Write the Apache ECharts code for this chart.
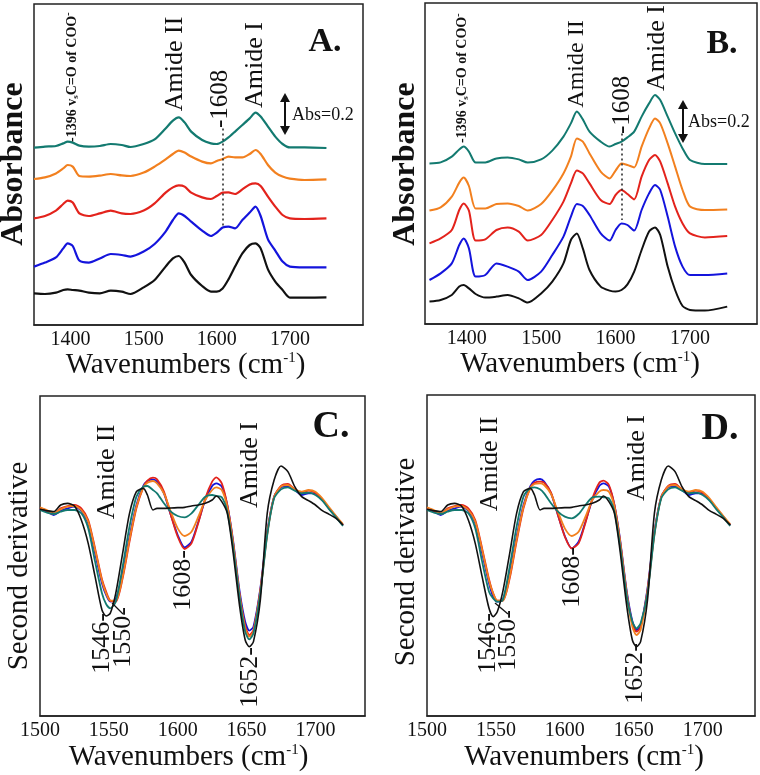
<!DOCTYPE html>
<html><head><meta charset="utf-8">
<script src="https://cdn.jsdelivr.net/npm/echarts@6/dist/echarts.min.js"></script>
<style>html,body{margin:0;padding:0;background:#fff}#c{width:760px;height:775px}</style>
</head><body><div id="c"></div>
<script>
// ---------- DATA ----------
// Panel A & B: absorbance spectra (offset, arbitrary units)
const xAB = [1350,1365,1380,1390,1396,1403,1412,1425,1440,1455,1470,1482,1500,1515,1530,1540,1548,1556,1565,1580,1592,1600,1608,1616,1625,1635,1645,1653,1660,1670,1680,1690,1700,1720,1750];
const aTeal   = [88.7,89.2,89.5,90.8,91.7,91.2,89.7,89.2,89.5,90.5,90.0,89.0,90.5,92.8,98.3,102.2,103.8,101.3,96.7,92.5,90.8,90.5,91.7,93.8,96.7,100.0,103.3,106.2,104.2,99.2,94.2,90.5,88.8,88.8,88.5];
const aOrange = [73.0,73.8,75.8,78.3,80.0,79.2,74.5,74.2,74.7,75.5,74.8,74.5,76.2,79.2,82.8,85.5,87.2,86.2,84.2,81.7,80.8,82.0,83.0,84.2,83.8,83.8,85.5,87.5,85.5,80.0,76.2,74.2,73.2,72.5,72.8];
const aRed    = [53.3,54.5,57.2,60.5,62.2,61.2,55.8,54.5,55.8,57.2,55.8,55.5,57.2,60.8,66.2,68.8,69.8,69.2,66.2,63.8,63.0,64.5,66.2,66.3,65.5,67.8,70.3,70.8,69.5,64.2,59.2,55.0,53.3,53.0,53.3];
const aBlue   = [29.2,31.2,33.8,38.3,40.8,39.5,32.2,31.2,33.3,35.5,35.0,34.2,36.7,40.5,46.7,52.5,55.8,54.5,51.7,47.2,44.5,46.2,48.7,49.2,48.3,52.5,56.2,59.2,54.5,42.8,37.2,31.7,29.2,28.8,28.8];
const aBlack  = [15.8,15.5,16.2,17.5,17.8,17.5,17.2,16.2,15.8,17.2,16.7,15.5,18.8,22.5,29.2,33.3,34.5,31.2,25.0,19.5,16.7,16.7,18.3,22.8,29.2,35.8,40.0,40.8,38.3,27.8,21.7,17.5,13.7,13.7,13.8];

const bTeal   = [80.3,80.8,83.7,87.3,88.7,86.2,80.7,80.8,82.8,83.3,82.3,80.7,82.3,86.7,93.7,100.3,106.2,102.3,96.2,91.2,88.7,90.0,91.2,93.3,96.2,103.7,110.3,114.5,112.0,103.7,95.3,87.8,82.0,80.0,80.0];
const bOrange = [56.7,58.3,63.7,70.7,73.2,69.0,57.8,57.8,60.0,60.3,59.0,56.7,60.0,66.7,75.3,83.7,92.8,91.2,85.3,76.2,72.8,76.7,80.3,79.5,78.3,88.7,97.8,102.8,100.3,90.3,78.7,67.0,58.7,57.0,57.3];
const bRed    = [40.3,42.8,47.0,57.0,60.3,56.7,41.7,42.3,47.0,48.3,46.2,41.7,44.5,52.0,61.2,70.3,76.7,75.3,70.3,62.0,60.0,64.5,67.0,65.0,62.3,73.7,82.0,84.5,81.2,70.3,58.7,50.3,45.3,43.3,44.0];
const bBlue   = [22.0,25.3,30.3,39.5,42.8,37.8,23.7,24.5,30.3,28.7,26.2,22.0,26.2,34.5,43.7,53.7,60.0,59.0,54.5,45.3,41.7,47.0,50.3,49.5,46.7,57.0,65.3,69.5,67.0,53.7,38.7,28.7,24.5,24.5,25.3];
const bBlack  = [11.2,12.0,14.5,18.7,19.5,17.8,15.0,13.2,13.7,14.5,12.8,10.7,15.3,21.2,30.3,42.0,45.3,37.8,27.0,18.7,16.7,16.2,17.0,19.8,26.2,37.0,46.2,48.3,44.5,28.7,17.0,9.0,7.0,6.7,8.7];

// Panel C & D: second derivative spectra (arbitrary units)
const xCD = [1500,1505,1510,1515,1520,1525,1530,1535,1540,1545,1548,1551,1555,1560,1565,1570,1575,1578,1582,1585,1590,1595,1600,1605,1610,1615,1620,1625,1628,1632,1636,1640,1645,1649,1652,1655,1660,1665,1670,1675,1680,1685,1690,1695,1700,1705,1710,1715,1720];
const cBlack  = [0.02,-0.02,-0.05,0.15,0.20,0.12,-0.30,-1.00,-2.00,-3.00,-3.18,-3.10,-2.50,-1.30,-0.10,0.55,0.65,0.45,0.00,0.05,0.05,0.06,0.07,0.08,0.12,0.15,0.20,0.30,0.42,0.25,-0.10,-1.20,-2.90,-3.90,-4.10,-3.95,-2.70,-0.10,0.90,1.32,1.15,0.70,0.40,0.28,0.15,-0.02,-0.13,-0.25,-0.45];
const cBlue   = [0.05,-0.05,-0.15,-0.02,0.05,0.10,-0.02,-0.40,-1.30,-2.20,-2.55,-2.75,-2.68,-1.90,-0.80,0.15,0.72,0.87,0.92,0.85,0.50,-0.15,-0.75,-1.12,-0.95,-0.35,0.30,0.72,0.80,0.70,0.15,-0.85,-2.45,-3.35,-3.62,-3.50,-2.35,-0.65,0.40,0.68,0.72,0.60,0.45,0.50,0.50,0.30,0.05,-0.20,-0.45];
const cRed    = [0.07,-0.03,-0.12,0.05,0.12,0.15,0.05,-0.30,-1.15,-2.08,-2.45,-2.72,-2.75,-2.05,-0.95,0.05,0.68,0.88,0.97,0.92,0.55,-0.15,-0.80,-1.17,-1.00,-0.38,0.35,0.85,0.98,0.80,0.15,-0.90,-2.55,-3.48,-3.75,-3.60,-2.40,-0.70,0.40,0.72,0.78,0.62,0.52,0.58,0.52,0.32,0.05,-0.20,-0.45];
const cOrange = [0.08,0.00,-0.10,0.02,0.10,0.12,0.00,-0.35,-1.20,-2.12,-2.50,-2.72,-2.72,-2.00,-0.88,0.10,0.68,0.82,0.87,0.80,0.50,-0.05,-0.55,-0.78,-0.65,-0.20,0.30,0.60,0.68,0.60,0.10,-0.92,-2.58,-3.55,-3.80,-3.65,-2.45,-0.72,0.38,0.70,0.75,0.62,0.55,0.60,0.55,0.35,0.08,-0.18,-0.42];
const cTeal   = [0.00,-0.08,-0.12,-0.05,0.00,0.00,-0.10,-0.55,-1.55,-2.50,-2.82,-2.95,-2.75,-1.70,-0.50,0.40,0.70,0.72,0.60,0.50,0.20,-0.05,-0.18,-0.22,-0.10,0.15,0.40,0.45,0.42,0.38,-0.05,-1.05,-2.65,-3.65,-3.88,-3.70,-2.50,-0.75,0.35,0.62,0.68,0.58,0.50,0.52,0.45,0.28,0.02,-0.22,-0.48];

const dBlack  = [0.02,-0.02,-0.05,0.15,0.20,0.12,-0.30,-1.00,-2.00,-2.95,-3.20,-3.05,-2.45,-1.30,-0.10,0.55,0.65,0.45,0.00,0.05,0.05,0.06,0.07,0.08,0.12,0.15,0.20,0.30,0.42,0.25,-0.10,-1.20,-2.90,-3.90,-4.10,-3.95,-2.70,-0.10,0.90,1.32,1.15,0.70,0.40,0.28,0.15,-0.02,-0.13,-0.25,-0.45];
const dBlue   = [0.05,-0.05,-0.15,-0.02,0.05,0.10,-0.02,-0.40,-1.30,-2.20,-2.60,-2.75,-2.70,-1.90,-0.80,0.15,0.72,0.88,0.93,0.85,0.50,-0.15,-0.78,-1.15,-0.95,-0.35,0.30,0.72,0.80,0.70,0.15,-0.85,-2.45,-3.33,-3.60,-3.48,-2.35,-0.65,0.40,0.68,0.72,0.60,0.45,0.50,0.50,0.30,0.05,-0.20,-0.45];
const dRed    = [0.07,-0.03,-0.12,0.05,0.12,0.15,0.05,-0.30,-1.15,-2.08,-2.50,-2.72,-2.72,-2.05,-0.95,0.05,0.68,0.82,0.85,0.82,0.52,-0.15,-0.80,-1.15,-1.00,-0.38,0.35,0.82,0.88,0.75,0.15,-0.90,-2.50,-3.40,-3.65,-3.52,-2.40,-0.70,0.40,0.72,0.78,0.62,0.52,0.58,0.52,0.32,0.05,-0.20,-0.45];
const dOrange = [0.08,0.00,-0.10,0.02,0.10,0.12,0.00,-0.35,-1.20,-2.12,-2.50,-2.72,-2.72,-2.00,-0.88,0.10,0.66,0.78,0.80,0.75,0.48,-0.05,-0.55,-0.78,-0.65,-0.20,0.30,0.55,0.60,0.55,0.10,-0.92,-2.55,-3.50,-3.75,-3.60,-2.45,-0.72,0.38,0.70,0.75,0.62,0.55,0.60,0.55,0.35,0.08,-0.18,-0.42];
const dTeal   = [0.00,-0.08,-0.12,-0.05,0.00,0.00,-0.10,-0.55,-1.55,-2.45,-2.65,-2.75,-2.70,-1.70,-0.50,0.40,0.66,0.68,0.62,0.50,0.20,-0.05,-0.20,-0.25,-0.12,0.15,0.38,0.40,0.38,0.35,-0.05,-1.05,-2.60,-3.35,-3.55,-3.40,-2.50,-0.75,0.35,0.62,0.68,0.58,0.50,0.52,0.45,0.28,0.02,-0.22,-0.48];

const xTicksAB = [1400,1500,1600,1700];
const xTicksCD = [1500,1550,1600,1650,1700];

// ---------- STYLE ----------
const FONT = '"Liberation Serif", "Times New Roman", serif';
const COL = {teal:'#137a70', orange:'#f2801f', red:'#e3231c', blue:'#1414dc', black:'#111111'};

function pts(xs, ys){ return xs.map((x,i)=>[x, ys[i]]); }
function line(name, xs, ys, color, g, w, extra){
  return Object.assign({type:'line', name, xAxisIndex:g, yAxisIndex:g, data:pts(xs,ys), showSymbol:false, symbol:'none', smooth:0.25,
    lineStyle:{color, width:w}, itemStyle:{color}, z:2, animation:false}, extra||{});
}
const dotted = (y1,y2)=>({symbol:'none', silent:true, animation:false, label:{show:false},
  lineStyle:{type:[2,3], color:'#222', width:1.5}, data:[[{coord:[1608,y1]},{coord:[1608,y2]}]]});

const grids = [
  {left:34, top:4, width:329, height:321},
  {left:425, top:3, width:332, height:321},
  {left:40, top:396, width:325, height:320},
  {left:427, top:395, width:328, height:321}
].map(g=>Object.assign(g,{show:true, borderColor:'#222', borderWidth:1.5, backgroundColor:'transparent', containLabel:false}));

const nameRich = {a:{fontFamily:FONT, fontSize:29, color:'#111'}, p:{fontFamily:FONT, fontSize:15, color:'#111', verticalAlign:'top', padding:[0,0,12,0]}};
function xAx(g, min, max, ticks, gap, shift){
  return {type:'value', gridIndex:g, min, max, splitLine:{show:false},
    axisLine:{show:true, onZero:false, lineStyle:{color:'#222', width:1.5}}, axisTick:{show:false},
    axisLabel:{customValues:ticks, formatter:(v)=>String(v), fontFamily:FONT, fontSize:20, color:'#111', margin:5},
    name:'{a|Wavenumbers (cm}{p|-1}{a|)}', nameLocation:'middle', nameGap:gap,
    nameTextStyle:{rich:nameRich, padding:[0, shift, 0, 0]}};
}
function yAx(g, min, max){ return {type:'value', gridIndex:g, min, max, show:false}; }

function vtext(x, y, text, size, align, bold){
  return {type:'text', x, y, rotation:Math.PI/2, z:10,
    style:{text, fill:'#111', font:(bold?'bold ':'')+size+'px '+FONT, textAlign:align||'center', textVerticalAlign:'middle', verticalAlign:'middle'}};
}
function htext(x, y, text, size, bold, align){
  return {type:'text', x, y, z:10, style:{text, fill:'#111', font:(bold?'bold ':'')+size+'px '+FONT, textAlign:align||'center', textVerticalAlign:'middle', verticalAlign:'middle'}};
}
function arrow(x, y1, y2){
  return {type:'group', z:10, children:[
    {type:'line', shape:{x1:x, y1:y1+5, x2:x, y2:y2-5}, style:{stroke:'#111', lineWidth:2}},
    {type:'polygon', shape:{points:[[x,y1],[x-5,y1+9],[x+5,y1+9]]}, style:{fill:'#111'}},
    {type:'polygon', shape:{points:[[x,y2],[x-5,y2-9],[x+5,y2-9]]}, style:{fill:'#111'}}
  ]};
}
function cooLabel(x, y){
  return {type:'text', x, y, rotation:Math.PI/2, z:10, style:{
    text:'{a|-1396 v}{s|s}{a|C=O of COO}{p|-}', textAlign:'left', textVerticalAlign:'middle', verticalAlign:'middle',
    rich:{a:{fontFamily:FONT, fontWeight:'bold', fontSize:14, fill:'#111', color:'#111'},
          s:{fontFamily:FONT, fontWeight:'bold', fontSize:9, fill:'#111', color:'#111', verticalAlign:'bottom', padding:[6,0,0,0]},
          p:{fontFamily:FONT, fontWeight:'bold', fontSize:10, fill:'#111', color:'#111', verticalAlign:'top', padding:[0,0,7,0]}}
  }};
}

const option = {
  animation:false,
  backgroundColor:'#fff',
  grid: grids,
  xAxis: [xAx(0,1350,1800,xTicksAB,22,26), xAx(1,1344,1790,xTicksAB,22,22), xAx(2,1500,1736,xTicksCD,27,28), xAx(3,1500,1738,xTicksCD,27,14)],
  yAxis: [yAx(0,0,160.5), yAx(1,0,160.5), yAx(2,-6.18,3.42), yAx(3,-6.18,3.45)],
  series: [
    line('A black', xAB, aBlack, COL.black, 0, 2.2),
    line('A blue', xAB, aBlue, COL.blue, 0, 2.2),
    line('A red', xAB, aRed, COL.red, 0, 2.2),
    line('A orange', xAB, aOrange, COL.orange, 0, 2.2),
    line('A teal', xAB, aTeal, COL.teal, 0, 2.2, {markLine:dotted(98.3,49.2)}),
    line('B black', xAB, bBlack, COL.black, 1, 2.0),
    line('B blue', xAB, bBlue, COL.blue, 1, 2.0),
    line('B red', xAB, bRed, COL.red, 1, 2.0),
    line('B orange', xAB, bOrange, COL.orange, 1, 2.0),
    line('B teal', xAB, bTeal, COL.teal, 1, 2.0, {markLine:dotted(95.3,52)}),
    line('C blue', xCD, cBlue, COL.blue, 2, 1.8),
    line('C red', xCD, cRed, COL.red, 2, 1.8),
    line('C orange', xCD, cOrange, COL.orange, 2, 1.8),
    line('C teal', xCD, cTeal, COL.teal, 2, 1.8),
    line('C black', xCD, cBlack, COL.black, 2, 1.6),
    line('D blue', xCD, dBlue, COL.blue, 3, 1.8),
    line('D red', xCD, dRed, COL.red, 3, 1.8),
    line('D orange', xCD, dOrange, COL.orange, 3, 1.8),
    line('D teal', xCD, dTeal, COL.teal, 3, 1.8),
    line('D black', xCD, dBlack, COL.black, 3, 1.6)
  ],
  graphic: [
    vtext(14, 164, 'Absorbance', 32, 'center', true),
    vtext(406, 164, 'Absorbance', 32, 'center', true),
    vtext(19, 566, 'Second derivative', 29, 'center', false),
    vtext(406, 562, 'Second derivative', 29, 'center', false),
    // Panel A
    htext(325, 42, 'A.', 34, true),
    cooLabel(72, 142),
    vtext(175, 64, 'Amide II', 26, 'center'),
    vtext(255, 65, 'Amide I', 26, 'center'),
    vtext(220, 128, '-1608', 25, 'left'),
    arrow(285, 93, 135),
    htext(292, 115, 'Abs=0.2', 18, false, 'left'),
    // Panel B
    htext(722, 44, 'B.', 34, true),
    cooLabel(462, 143),
    vtext(577, 64, 'Amide II', 24, 'center'),
    vtext(657, 48, 'Amide I', 26, 'center'),
    vtext(622, 134, '-1608', 25, 'left'),
    arrow(683, 100, 143),
    htext(688, 122, 'Abs=0.2', 18, false, 'left'),
    // Panel C
    htext(331, 427, 'C.', 38, true),
    vtext(107, 472, 'Amide II', 26, 'center'),
    vtext(250, 465, 'Amide I', 26, 'center'),
    vtext(183, 550, '1608-', 26, 'right'),
    vtext(102, 613, '1546-', 26, 'right'),
    vtext(123, 607, '1550-', 26, 'right'),
    vtext(250, 647, '1652-', 26, 'right'),
    {type:'line', z:10, shape:{x1:112, y1:603, x2:123, y2:614}, style:{stroke:'#111', lineWidth:1.3}},
    // Panel D
    htext(720, 429, 'D.', 38, true),
    vtext(490, 464, 'Amide II', 26, 'center'),
    vtext(637, 458, 'Amide I', 26, 'center'),
    vtext(572, 547, '1608-', 26, 'right'),
    vtext(488, 613, '1546-', 26, 'right'),
    vtext(508, 610, '1550-', 26, 'right'),
    vtext(635, 643, '1652-', 26, 'right'),
    {type:'line', z:10, shape:{x1:495, y1:603, x2:508, y2:614}, style:{stroke:'#111', lineWidth:1.3}}
  ]
};
const chart = echarts.init(document.getElementById('c'), null, {renderer:'canvas'});
chart.setOption(option);
</script></body></html>
